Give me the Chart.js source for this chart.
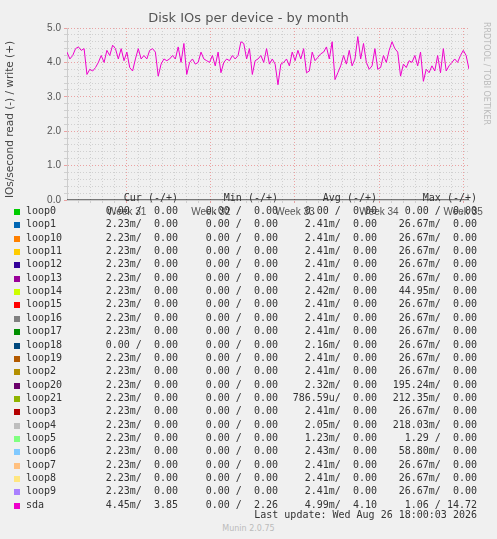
<!DOCTYPE html>
<html><head><meta charset="utf-8">
<script src="https://cdn.jsdelivr.net/npm/chart.js@4"></script>
<style>
body{margin:0;background:#f0f0f0;width:497px;height:539px;overflow:hidden;font-family:"DejaVu Sans",sans-serif;}
#wrap{position:absolute;left:0;top:0;width:497px;height:225px;}
.t{position:absolute;white-space:pre;color:#333;}
.m{font-family:"DejaVu Sans Mono",monospace;font-size:10px;}
</style></head><body>
<div id="wrap"><canvas id="c" width="497" height="225"></canvas></div>
<div class="t" style="left:0;width:497px;top:10px;text-align:center;font-size:13px;color:#555">Disk IOs per device - by month</div>
<div class="t" style="left:3px;top:198px;font-size:10.5px;color:#444;transform:rotate(-90deg);transform-origin:0 0">IOs/second read (-) / write (+)</div>
<div class="t" style="left:491px;top:22px;font-size:8px;color:#bbb;transform:rotate(90deg);transform-origin:0 0">RRDTOOL / TOBI OETIKER</div>
<div id="legend"></div>
<div class="t m" style="right:20px;top:509px">Last update: Wed Aug 26 18:00:03 2026</div>
<div class="t" style="left:0;width:497px;top:524px;text-align:center;font-size:8px;color:#bbb">Munin 2.0.75</div>
<script>
// données
const startWeek = 30.29;
const endWeek = 35.07;
const sdaWrite = [4.3,4.1,4.2,4.4,4.45,4.35,4.4,3.65,3.8,3.75,3.85,4.0,4.2,4.0,4.35,4.2,4.5,4.4,4.1,4.4,4.05,4.3,3.85,3.75,4.1,4.4,4.1,4.2,4.1,4.35,4.4,4.3,3.6,3.95,4.1,4.05,4.1,4.2,4.1,4.45,4.0,4.55,3.65,4.0,4.1,3.95,4.0,4.3,4.1,4.05,4.0,4.2,3.9,4.3,3.7,4.0,4.1,4.05,4.2,4.1,4.2,4.6,4.55,4.1,4.4,3.65,4.05,4.1,4.2,4.0,4.4,3.95,4.1,3.95,3.35,3.95,4.0,4.1,3.9,4.3,4.05,4.35,4.1,4.4,3.7,3.75,4.3,4.05,4.15,4.25,4.3,4.45,4.1,4.6,3.5,3.7,3.9,4.2,3.95,4.35,3.9,4.1,4.75,4.1,4.55,4.0,3.8,3.9,4.4,3.8,3.85,4.2,4.0,4.35,4.6,4.4,4.3,3.6,3.95,3.85,4.05,4.0,4.2,3.9,4.3,3.45,3.8,3.7,3.9,3.75,4.2,3.7,4.4,3.75,3.9,4.0,4.1,4.0,4.2,4.35,4.2,3.8];
const devices = ['loop0','loop1','loop10','loop11','loop12','loop13','loop14','loop15','loop16','loop17','loop18','loop19','loop2','loop20','loop21','loop3','loop4','loop5','loop6','loop7','loop8','loop9','sda'];
const colors = ['#00cc00','#0066b3','#ff8000','#ffcc00','#330099','#990099','#ccff00','#ff0000','#808080','#008f00','#00487d','#b35a00','#b38f00','#6b006b','#8fb300','#b30000','#bebebe','#80ff80','#80c9ff','#ffc080','#ffe680','#aa80ff','#ee00cc'];
const cur = ['0.00 /  0.00','2.23m/  0.00','2.23m/  0.00','2.23m/  0.00','2.23m/  0.00','2.23m/  0.00','2.23m/  0.00','2.23m/  0.00','2.23m/  0.00','2.23m/  0.00','0.00 /  0.00','2.23m/  0.00','2.23m/  0.00','2.23m/  0.00','2.23m/  0.00','2.23m/  0.00','2.23m/  0.00','2.23m/  0.00','2.23m/  0.00','2.23m/  0.00','2.23m/  0.00','2.23m/  0.00','4.45m/  3.85'];
const mins = Array(22).fill('0.00 /  0.00').concat(['0.00 /  2.26']);
const avgs = ['0.00 /  0.00','2.41m/  0.00','2.41m/  0.00','2.41m/  0.00','2.41m/  0.00','2.41m/  0.00','2.42m/  0.00','2.41m/  0.00','2.41m/  0.00','2.41m/  0.00','2.16m/  0.00','2.41m/  0.00','2.41m/  0.00','2.32m/  0.00','786.59u/  0.00','2.41m/  0.00','2.05m/  0.00','1.23m/  0.00','2.43m/  0.00','2.41m/  0.00','2.41m/  0.00','2.41m/  0.00','4.99m/  4.10'];
const maxs = ['0.00 /  0.00','26.67m/  0.00','26.67m/  0.00','26.67m/  0.00','26.67m/  0.00','26.67m/  0.00','44.95m/  0.00','26.67m/  0.00','26.67m/  0.00','26.67m/  0.00','26.67m/  0.00','26.67m/  0.00','26.67m/  0.00','195.24m/  0.00','212.35m/  0.00','26.67m/  0.00','218.03m/  0.00','1.29 /  0.00','58.80m/  0.00','26.67m/  0.00','26.67m/  0.00','26.67m/  0.00','1.06 / 14.72'];

// légende
let html = '';
const hdr = [['Cur (-/+)',178],['Min (-/+)',278],['Avg (-/+)',377],['Max (-/+)',477]];
hdr.forEach(h => html += `<div class="t m" style="right:${497-h[1]}px;top:192px">${h[0]}</div>`);
devices.forEach((d, i) => {
  const y = Math.round(205 + i * 13.35);
  html += `<div style="position:absolute;left:14px;top:${y+4}px;width:6px;height:6px;background:${colors[i]}"></div>`;
  html += `<div class="t m" style="left:26px;top:${y}px">${d}</div>`;
  [[cur,178],[mins,278],[avgs,377],[maxs,477]].forEach(c => {
    html += `<div class="t m" style="right:${497-c[1]}px;top:${y}px">${c[0][i]}</div>`;
  });
});
document.getElementById('legend').innerHTML = html;

const step = (endWeek - startWeek) / (sdaWrite.length - 1);
const pts = sdaWrite.map((v, i) => ({x: startWeek + i * step, y: v}));
const isMajor = v => Math.abs(v - Math.round(v)) < 1e-6;

new Chart(document.getElementById('c'), {
  type: 'line',
  data: {datasets: [
    {data: pts, borderColor: '#ee00cc', borderWidth: 1, pointRadius: 0, tension: 0},
    {data: [{x: startWeek, y: 0}, {x: endWeek, y: 0}], borderColor: '#000', borderWidth: 1, pointRadius: 0}
  ]},
  options: {
    responsive: false, animation: false,
    layout: {padding: {left: 0, top: 28, right: 28, bottom: 0}},
    plugins: {legend: {display: false}, tooltip: {enabled: false}},
    scales: {
      x: {
        type: 'linear', min: startWeek, max: endWeek,
        afterFit: s => { s.height = 25; },
        afterBuildTicks: s => {
          const t = [];
          for (let d = Math.ceil(startWeek * 7); d <= endWeek * 7; d++) t.push({value: d / 7});
          s.ticks = t;
        },
        ticks: {autoSkip: false, maxRotation: 0, color: '#555', font: {size: 10},
          callback: v => isMajor(v) ? 'Week ' + Math.round(v) : ''},
        grid: {color: c => isMajor(c.tick.value) ? 'rgba(230,110,110,0.6)' : '#d0d0d0', tickLength: 3},
        border: {dash: [1, 2], color: '#ccc'}
      },
      y: {
        min: 0, max: 5,
        afterFit: s => { s.width = 67; },
        afterBuildTicks: s => {
          const t = [];
          for (let k = 0; k <= 25; k++) t.push({value: k / 5});
          s.ticks = t;
        },
        ticks: {autoSkip: false, color: '#555', font: {size: 10},
          callback: v => isMajor(v) ? v.toFixed(1) : ''},
        grid: {color: c => isMajor(c.tick.value) ? 'rgba(230,110,110,0.6)' : '#d0d0d0', tickLength: 3},
        border: {dash: [1, 2], color: '#ccc'}
      }
    }
  }
});
</script>
</body></html>
